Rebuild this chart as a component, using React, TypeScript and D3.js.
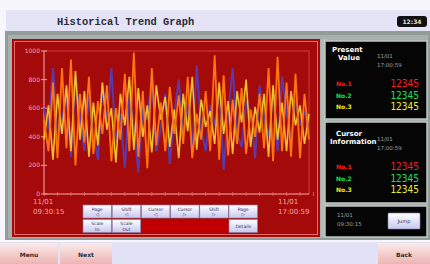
import React from "react";
import * as d3 from "d3";

const seriesOrange = [520, 300, 780, 250, 880, 320, 940, 200, 700, 360, 820, 280, 650, 420, 760, 230, 600, 380, 840, 300, 990, 260, 720, 180, 880, 340, 640, 300, 750, 420, 690, 350, 820, 250, 560, 380, 720, 300, 970, 240, 830, 270, 660, 350, 740, 280, 590, 400, 700, 320, 880, 230, 960, 300, 780, 260, 840, 250, 700, 380];
const seriesYellow = [380, 620, 240, 700, 420, 760, 300, 860, 380, 720, 260, 640, 340, 780, 450, 600, 220, 700, 480, 820, 310, 740, 400, 620, 290, 760, 520, 680, 330, 590, 250, 700, 440, 820, 310, 660, 470, 580, 350, 780, 420, 650, 280, 720, 500, 800, 330, 610, 430, 700, 260, 760, 380, 640, 300, 720, 480, 620, 350, 560];
const seriesPurple = [600, 450, 880, 380, 520, 700, 260, 820, 540, 300, 680, 420, 240, 760, 500, 880, 360, 560, 180, 680, 480, 150, 620, 520, 830, 300, 460, 700, 210, 560, 800, 400, 640, 280, 900, 450, 300, 620, 480, 720, 170, 560, 880, 420, 330, 640, 580, 250, 760, 520, 400, 700, 300, 820, 560, 380, 660, 480, 580, 420];

const yTicks = [0, 200, 400, 600, 800, 1000];
const startLabel = ["11/01", "09:30:15"];
const endLabel = ["11/01", "17:00:59"];
const buttonsRow1 = [["Page", "◁"], ["Shift", "◁"], ["Cursor", "◁"], ["Cursor", "▷"], ["Shift", "▷"], ["Page", "▷"]];
const buttonsRow2 = [["Scale", "In"], ["Scale", "Out"]];
const channels = ["No.1", "No.2", "No.3"];
const channelColors = ["#ff1a1a", "#19e05a", "#f0f020"];
const channelValues = ["12345", "12345", "12345"];

export default function App() {
  const x = d3.scaleLinear().domain([0, seriesOrange.length - 1]).range([44, 309]);
  const y = d3.scaleLinear().domain([0, 1000]).range([194, 51]);
  const line = d3.line<number>().x((_, i) => x(i)).y((d) => y(d));
  const mono = "'Liberation Mono', 'DejaVu Sans Mono', monospace";
  const sans = "'DejaVu Sans', sans-serif";
  const xMinor = d3.range(0, 61, 3);

  const panelRows = (top: number) =>
    channels.map((c, i) => (
      <g key={c}>
        <text x={336} y={top + i * 11.5} fill={channelColors[i]} fontSize={6} fontFamily={sans} fontWeight="bold">{c}</text>
        <text x={419} y={top + i * 11.5 + 1} fill={channelColors[i]} fontSize={10} fontFamily="'Liberation Sans Narrow', 'DejaVu Sans Condensed', sans-serif" textAnchor="end">{channelValues[i]}</text>
      </g>
    ));

  return (
    <div style={{ position: "fixed", left: 0, top: 0 }}>
      <svg width={430} height={264} style={{ display: "block" }}>
        <defs>
          <linearGradient id="pink" x1="0" y1="0" x2="0" y2="1">
            <stop offset="0" stopColor="#fbeaea" />
            <stop offset="1" stopColor="#eeb4b4" />
          </linearGradient>
          <linearGradient id="btn" x1="0" y1="0" x2="0" y2="1">
            <stop offset="0" stopColor="#ffffff" />
            <stop offset="1" stopColor="#c8c8ee" />
          </linearGradient>
        </defs>
        <rect x={0} y={0} width={430} height={264} fill="#f6f6fc" />
        {/* title bar */}
        <rect x={6} y={10} width={424} height={21} fill="#e4e4f6" />
        <text x={57} y={25} fontFamily={mono} fontWeight="bold" fontSize={10.4} fill="#2a2a38">Historical Trend Graph</text>
        <rect x={397} y={16} width={30} height={11} rx={3} fill="#101010" />
        <text x={412} y={24} fontFamily={sans} fontSize={6} fill="#e0e0e0" textAnchor="middle" fontWeight="bold">12:34</text>
        {/* frame */}
        <rect x={5} y={31} width={425} height={209} fill="#929c98" />
        <rect x={8} y={35} width={420} height={203} fill="#a8b0ae" />
        {/* red panel */}
        <rect x={12} y={39} width={308} height={198} fill="#a50a0a" />
        <rect x={14.5} y={41.5} width={303} height={193} fill="none" stroke="#e46a6a" strokeWidth={1} />
        {/* plot frame */}
        <rect x={44} y={51} width={265} height={143} fill="none" stroke="#c84040" strokeWidth={1} />
        <line x1={44} x2={44} y1={51} y2={194} stroke="#e89090" />
        <line x1={44} x2={309} y1={194} y2={194} stroke="#e89090" />
        {yTicks.map((t) => (
          <g key={t}>
            <line x1={41} x2={47} y1={y(t)} y2={y(t)} stroke="#f0a0a0" />
            <text x={40} y={y(t) + 2} fontSize={6} fontFamily={sans} fill="#f0a8a8" textAnchor="end">{t}</text>
          </g>
        ))}
        {xMinor.map((i) => (
          <line key={i} x1={x(i)} x2={x(i)} y1={192} y2={196} stroke="#d87070" strokeWidth={0.8} />
        ))}
        <path d={line(seriesPurple) || ""} fill="none" stroke="#5a3aa8" strokeWidth={2} />
        <path d={line(seriesYellow) || ""} fill="none" stroke="#efc030" strokeWidth={1.6} />
        <path d={line(seriesOrange) || ""} fill="none" stroke="#ff7410" strokeWidth={1.8} />
        {/* x labels */}
        <text fontSize={7} fontFamily={sans} fill="#f0a8a8">
          <tspan x={33} y={204}>{startLabel[0]}</tspan>
          <tspan x={33} y={214}>{startLabel[1]}</tspan>
        </text>
        <text fontSize={7} fontFamily={sans} fill="#f0a8a8">
          <tspan x={278} y={204}>{endLabel[0]}</tspan>
          <tspan x={278} y={214}>{endLabel[1]}</tspan>
        </text>
        {/* buttons */}
        {buttonsRow1.map((b, i) => (
          <g key={i}>
            <rect x={83 + i * 29.2} y={205} width={28.5} height={13} fill="url(#btn)" stroke="#8080b0" strokeWidth={0.6} />
            <text x={83 + i * 29.2 + 14.2} y={210.5} fontSize={4.5} fontFamily={sans} fill="#303060" textAnchor="middle">{b[0]}</text>
            <text x={83 + i * 29.2 + 14.2} y={216} fontSize={4.5} fontFamily={sans} fill="#303060" textAnchor="middle">{b[1]}</text>
          </g>
        ))}
        {buttonsRow2.map((b, i) => (
          <g key={i}>
            <rect x={83 + i * 29.2} y={219.5} width={28.5} height={13} fill="url(#btn)" stroke="#8080b0" strokeWidth={0.6} />
            <text x={83 + i * 29.2 + 14.2} y={225} fontSize={4.5} fontFamily={sans} fill="#303060" textAnchor="middle">{b[0]}</text>
            <text x={83 + i * 29.2 + 14.2} y={230.5} fontSize={4.5} fontFamily={sans} fill="#303060" textAnchor="middle">{b[1]}</text>
          </g>
        ))}
        <rect x={141.5} y={219.5} width={87} height={13} fill="#c00000" />
        <rect x={229} y={219.5} width={28.5} height={13} fill="url(#btn)" stroke="#8080b0" strokeWidth={0.6} />
        <text x={243.2} y={228} fontSize={4.5} fontFamily={sans} fill="#303060" textAnchor="middle">Details</text>
        {/* right panels */}
        <rect x={321} y={39} width={7} height={198} fill="#b4bcba" />
        {[[325, 41, 102, 78], [325, 122, 102, 81], [325, 206, 102, 31]].map((p, i) => (
          <rect key={i} x={p[0]} y={p[1]} width={p[2]} height={p[3]} fill="#050505" stroke="#c0c4c4" strokeWidth={1.5} />
        ))}
        <text fontSize={7} fontFamily={sans} fontWeight="bold" fill="#ffffff">
          <tspan x={332} y={52}>Present</tspan>
          <tspan x={338} y={60}>Value</tspan>
        </text>
        <text fontSize={5.5} fontFamily={sans} fill="#a0a0a0">
          <tspan x={377} y={58}>11/01</tspan>
          <tspan x={377} y={67}>17:00:59</tspan>
        </text>
        {panelRows(86)}
        <text fontSize={7} fontFamily={sans} fontWeight="bold" fill="#ffffff">
          <tspan x={336} y={136}>Cursor</tspan>
          <tspan x={330} y={144}>Information</tspan>
        </text>
        <text fontSize={5.5} fontFamily={sans} fill="#a0a0a0">
          <tspan x={377} y={141}>11/01</tspan>
          <tspan x={377} y={150}>17:00:59</tspan>
        </text>
        {panelRows(169)}
        <text fontSize={5.5} fontFamily={sans} fill="#a0a0a0">
          <tspan x={337} y={217}>11/01</tspan>
          <tspan x={337} y={226}>09:30:15</tspan>
        </text>
        <rect x={388} y={213} width={32} height={16} rx={1} fill="url(#btn)" stroke="#8080b0" strokeWidth={0.6} />
        <text x={404} y={223} fontSize={5} fontFamily={sans} fill="#303060" textAnchor="middle">Jump</text>
        {/* bottom bar */}
        <rect x={0} y={242} width={430} height={22} fill="#e2e2f6" />
        <rect x={0} y={243} width={58} height={21} fill="url(#pink)" />
        <rect x={60} y={243} width={52} height={21} fill="url(#pink)" />
        <rect x={378} y={243} width={52} height={21} fill="url(#pink)" />
        <text x={29} y={257} fontSize={6} fontFamily={sans} fontWeight="bold" fill="#303030" textAnchor="middle">Menu</text>
        <text x={86} y={257} fontSize={6} fontFamily={sans} fontWeight="bold" fill="#303030" textAnchor="middle">Next</text>
        <text x={404} y={257} fontSize={6} fontFamily={sans} fontWeight="bold" fill="#303030" textAnchor="middle">Back</text>
      </svg>
    </div>
  );
}
